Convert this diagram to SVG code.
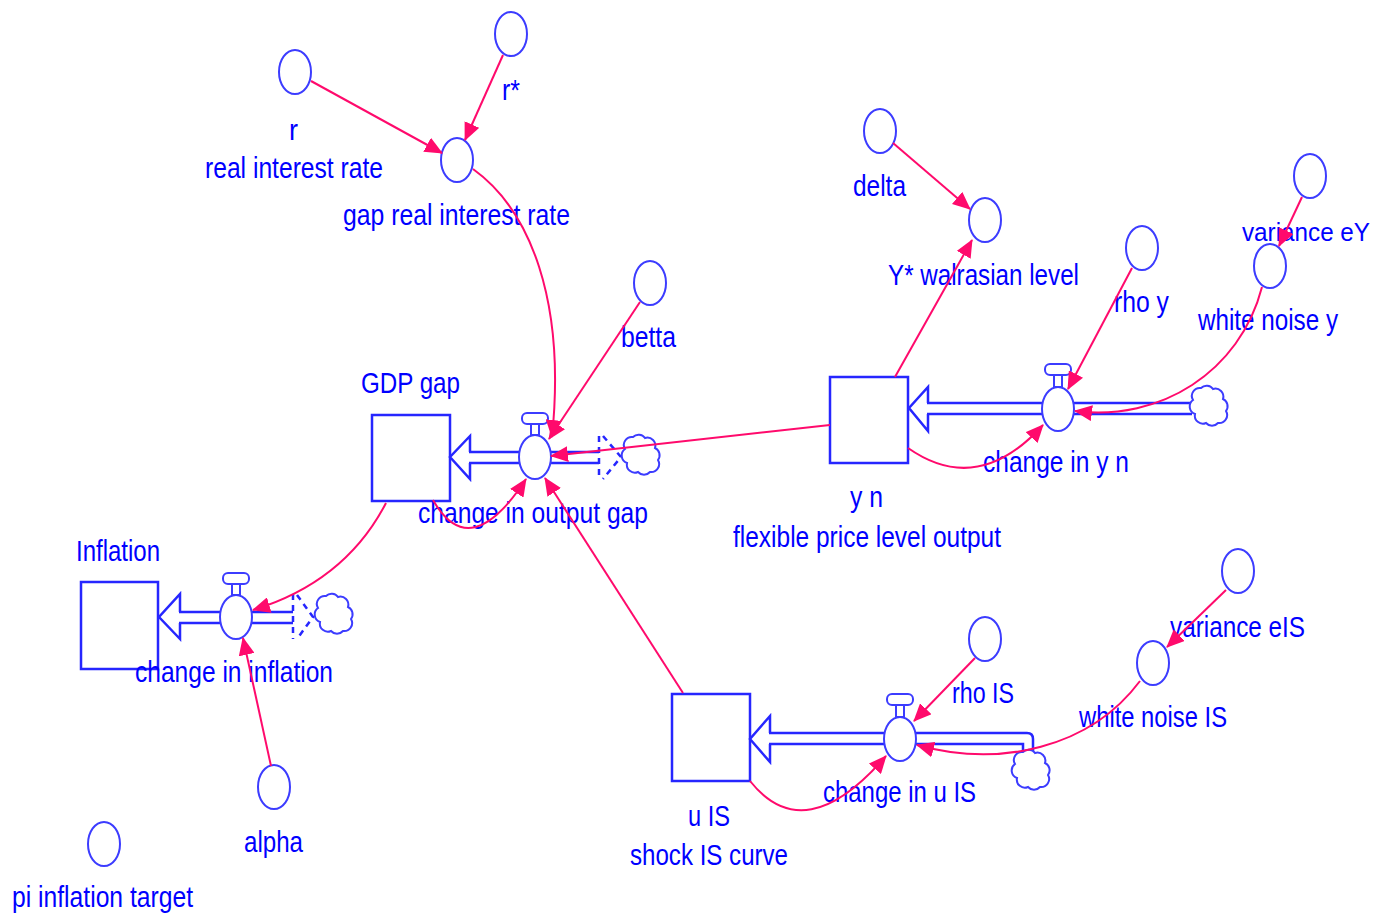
<svg xmlns="http://www.w3.org/2000/svg" xmlns:xlink="http://www.w3.org/1999/xlink" width="1389" height="916" viewBox="0 0 1389 916">
<style>
.t{font-family:"Liberation Sans",Arial,sans-serif;font-size:30px;fill:#0000ff;}
.aux{fill:#ffffff;stroke:#3c3cff;stroke-width:2;}
.stock{fill:#ffffff;stroke:#2626ff;stroke-width:2.5;}
.pipe{fill:none;stroke:#2626ff;stroke-width:2.5;}
.head{fill:#ffffff;stroke:#2626ff;stroke-width:2.5;stroke-linejoin:miter;}
.cloud{fill:#ffffff;stroke:#3c3cff;stroke-width:2;}
.ghost{fill:none;stroke:#2626ff;stroke-width:2.5;stroke-dasharray:6,5;}
.valve{fill:#ffffff;stroke:#3c3cff;stroke-width:2;}
.con{fill:none;stroke:#ff0a6c;stroke-width:2;marker-end:url(#ah);}
</style>
<defs>
<marker id="ah" viewBox="0 0 18 16" refX="17" refY="8" markerWidth="18" markerHeight="16" markerUnits="userSpaceOnUse" orient="auto">
<path d="M0,0 L18,8 L0,16 z" fill="#ff0a6c"/>
</marker>
<path id="cloud" class="cloud" d="M-15,-8 a8,8 0 0 1 8,-12 a8,8 0 0 1 12,1 a8,8 0 0 1 10,10 a8,8 0 0 1 3,12 a8,8 0 0 1 -8,12 a8,8 0 0 1 -12,0 a8,8 0 0 1 -11,-9 a8,8 0 0 1 -2,-14 z"/>
</defs>
<rect width="1389" height="916" fill="#ffffff"/>

<!-- GDP gap stock and flow -->
<g id="gdp_gap">
<rect class="stock" x="372" y="415" width="78" height="86"/>
<text class="t" x="361" y="393" textLength="99" lengthAdjust="spacingAndGlyphs">GDP gap</text>
</g>
<g id="change_in_output_gap">
<path class="head" d="M470,452 V436 L450,457 L470,479 V463"/>
<path class="pipe" d="M469,452 H599 M469,463 H599"/>
<path class="ghost" d="M599,436 V479 M603,436 L621,457 L603,479"/>
<use xlink:href="#cloud" href="#cloud" x="640" y="457"/>
<rect class="valve" x="522" y="413" width="26" height="11" rx="5"/>
<rect class="valve" x="531" y="424" width="8" height="11"/>
<ellipse class="valve" cx="535" cy="457" rx="16" ry="22"/>
<text class="t" x="418" y="523" textLength="230" lengthAdjust="spacingAndGlyphs">change in output gap</text>
</g>

<!-- Inflation stock and flow -->
<g id="inflation">
<rect class="stock" x="81" y="582" width="77" height="87"/>
<text class="t" x="76" y="561" textLength="84" lengthAdjust="spacingAndGlyphs">Inflation</text>
</g>
<g id="change_in_inflation">
<path class="head" d="M180,612 V594 L159,617 L180,639 V623"/>
<path class="pipe" d="M179,612 H293 M179,623 H293"/>
<path class="ghost" d="M293,594 V639 M297,595 L313,617 L297,639"/>
<use xlink:href="#cloud" href="#cloud" x="333" y="616"/>
<rect class="valve" x="223" y="573" width="26" height="11" rx="5"/>
<rect class="valve" x="232" y="584" width="8" height="11"/>
<ellipse class="valve" cx="236" cy="617" rx="16" ry="22"/>
<text class="t" x="135" y="682" textLength="198" lengthAdjust="spacingAndGlyphs">change in inflation</text>
</g>

<!-- y n stock and flow -->
<g id="y_n">
<rect class="stock" x="830" y="377" width="78" height="86"/>
<text class="t" x="850" y="507" textLength="33" lengthAdjust="spacingAndGlyphs">y n</text>
<text class="t" x="733" y="547" textLength="268" lengthAdjust="spacingAndGlyphs">flexible price level output</text>
</g>
<g id="change_in_y_n">
<path class="head" d="M928,403 V387 L909,408 L928,431 V414"/>
<path class="pipe" d="M927,403 H1192 M927,414 H1192"/>
<use xlink:href="#cloud" href="#cloud" x="1208" y="408"/>
<rect class="valve" x="1045" y="364" width="26" height="11" rx="5"/>
<rect class="valve" x="1054" y="375" width="8" height="12"/>
<ellipse class="valve" cx="1058" cy="409" rx="16" ry="22"/>
<text class="t" x="983" y="472" textLength="146" lengthAdjust="spacingAndGlyphs">change in y n</text>
</g>

<!-- u IS stock and flow -->
<g id="u_IS">
<rect class="stock" x="672" y="694" width="78" height="87"/>
<text class="t" x="688" y="826" textLength="42" lengthAdjust="spacingAndGlyphs">u IS</text>
<text class="t" x="630" y="865" textLength="158" lengthAdjust="spacingAndGlyphs">shock IS curve</text>
</g>
<g id="change_in_u_IS">
<path class="head" d="M770,733 V716 L750,739 L770,762 V744"/>
<path class="pipe" d="M769,733 H1027 Q1033,733 1033,739 V756 M769,744 H1023 V756"/>
<use xlink:href="#cloud" href="#cloud" x="1030" y="772"/>
<rect class="valve" x="887" y="694" width="26" height="11" rx="5"/>
<rect class="valve" x="896" y="705" width="8" height="12"/>
<ellipse class="valve" cx="900" cy="739" rx="16" ry="22"/>
<text class="t" x="823" y="802" textLength="153" lengthAdjust="spacingAndGlyphs">change in u IS</text>
</g>

<!-- Auxiliaries -->
<g id="r">
<ellipse class="aux" cx="295" cy="72" rx="16" ry="22"/>
<text class="t" x="289" y="140" textLength="9" lengthAdjust="spacingAndGlyphs">r</text>
<text class="t" x="205" y="178" textLength="178" lengthAdjust="spacingAndGlyphs">real interest rate</text>
</g>
<g id="r_star">
<ellipse class="aux" cx="511" cy="34" rx="16" ry="22"/>
<text class="t" x="502" y="100" textLength="18" lengthAdjust="spacingAndGlyphs">r*</text>
</g>
<g id="gap_real_interest_rate">
<ellipse class="aux" cx="457" cy="160" rx="16" ry="22"/>
<text class="t" x="343" y="225" textLength="227" lengthAdjust="spacingAndGlyphs">gap real interest rate</text>
</g>
<g id="betta">
<ellipse class="aux" cx="650" cy="283" rx="16" ry="22"/>
<text class="t" x="621" y="347" textLength="55" lengthAdjust="spacingAndGlyphs">betta</text>
</g>
<g id="delta">
<ellipse class="aux" cx="880" cy="131" rx="16" ry="22"/>
<text class="t" x="853" y="196" textLength="53" lengthAdjust="spacingAndGlyphs">delta</text>
</g>
<g id="y_star_walrasian_level">
<ellipse class="aux" cx="985" cy="220" rx="16" ry="22"/>
<text class="t" x="888" y="285" textLength="191" lengthAdjust="spacingAndGlyphs">Y* walrasian level</text>
</g>
<g id="rho_y">
<ellipse class="aux" cx="1142" cy="248" rx="16" ry="22"/>
<text class="t" x="1114" y="312" textLength="55" lengthAdjust="spacingAndGlyphs">rho y</text>
</g>
<g id="variance_eY">
<ellipse class="aux" cx="1310" cy="176" rx="16" ry="22"/>
<text class="t" x="1242" y="241" style="font-size:25px" textLength="128" lengthAdjust="spacingAndGlyphs">variance eY</text>
</g>
<g id="white_noise_y">
<ellipse class="aux" cx="1270" cy="266" rx="16" ry="22"/>
<text class="t" x="1198" y="330" textLength="140" lengthAdjust="spacingAndGlyphs">white noise y</text>
</g>
<g id="rho_IS">
<ellipse class="aux" cx="985" cy="639" rx="16" ry="22"/>
<text class="t" x="952" y="703" textLength="62" lengthAdjust="spacingAndGlyphs">rho IS</text>
</g>
<g id="variance_eIS">
<ellipse class="aux" cx="1238" cy="571" rx="16" ry="22"/>
<text class="t" x="1170" y="637" textLength="135" lengthAdjust="spacingAndGlyphs">variance eIS</text>
</g>
<g id="white_noise_IS">
<ellipse class="aux" cx="1153" cy="663" rx="16" ry="22"/>
<text class="t" x="1079" y="727" textLength="148" lengthAdjust="spacingAndGlyphs">white noise IS</text>
</g>
<g id="alpha">
<ellipse class="aux" cx="274" cy="787" rx="16" ry="22"/>
<text class="t" x="244" y="852" textLength="59" lengthAdjust="spacingAndGlyphs">alpha</text>
</g>
<g id="pi_inflation_target">
<ellipse class="aux" cx="104" cy="844" rx="16" ry="22"/>
<text class="t" x="12" y="907" textLength="181" lengthAdjust="spacingAndGlyphs">pi inflation target</text>
</g>

<!-- Connectors -->
<g id="connectors">
<path class="con" d="M311,81 L442,153"/>
<path class="con" d="M503,55 L465,140"/>
<path class="con" d="M473,169 C530,210 566,300 552,437"/>
<path class="con" d="M640,302 L549,439"/>
<path class="con" d="M830,425 L551,456"/>
<path class="con" d="M433,500 Q470,565 526,479"/>
<path class="con" d="M683,693 L545,478"/>
<path class="con" d="M386,503 Q345,582 253,610"/>
<path class="con" d="M271,766 L243,638"/>
<path class="con" d="M893,143 L970,209"/>
<path class="con" d="M895,377 L972,240"/>
<path class="con" d="M1132,268 L1068,389"/>
<path class="con" d="M1262,287 C1240,372 1160,422 1075,411"/>
<path class="con" d="M1302,197 L1279,246"/>
<path class="con" d="M908,448 Q978,497 1043,425"/>
<path class="con" d="M975,658 L914,721"/>
<path class="con" d="M1140,681 C1090,748 1000,768 917,745"/>
<path class="con" d="M1226,590 L1167,647"/>
<path class="con" d="M750,781 Q805,850 886,756"/>
</g>
</svg>
